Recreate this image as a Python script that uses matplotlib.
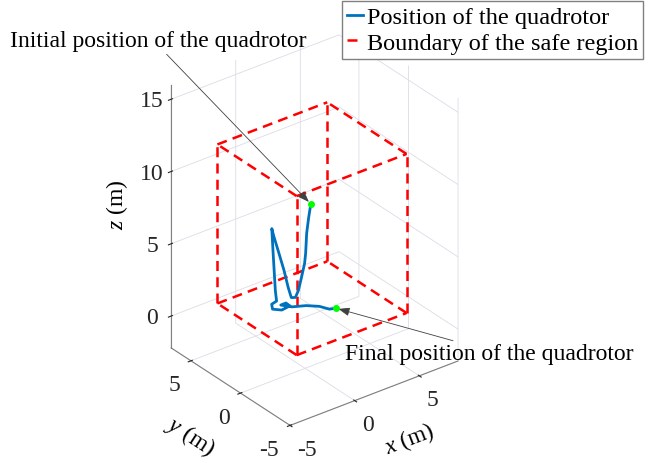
import itertools
import numpy as np
import matplotlib
matplotlib.use("Agg")
import matplotlib.pyplot as plt
from mpl_toolkits.mplot3d import proj3d

# ---- data ----
# quadrotor trajectory (m)
traj_x = [0.44, 0.28, 0.12, 0.04, -0.04, -0.28, -0.52, -0.75, -1.07, -1.31, -1.63,
          -2.02, -2.42, -2.58, -2.50, -1.46, -0.745, -0.037, 0.244, -0.083, 0.30,
          1.01, 1.03, 0.625, 1.03, 1.82, 2.41, 2.69, 3.07]
traj_y = [0, 0, 0, 0, 0, 0, 0, 0, 0, 0, 0,
          0, 0, 0, 0, 1.22, 2.03, 2.83, 3.69, 3.18, 2.75,
          2.85, 3.28, 3.27, 2.68, 2.27, 1.70, 1.05, 0.92]
traj_z = [9.02, 8.17, 7.11, 5.75, 5.08, 4.19, 3.37, 2.96, 3.06, 3.84, 5.12,
          6.43, 7.75, 8.35, 7.0, 4.5, 2.5, 1.2, 0.5, 0.5, 0.5,
          0.5, 0.5, 0.5, 0.5, 0.5, 0.5, 0.5, 0.5]

# safe region limits (m)
box_x = [-1.8, 6.7]
box_y = [-1.5, 6.5]
box_z = [0.0, 11.0]

xlims = (-5, 8)
ylims = (-5, 7)
zlims = (-2.2, 16)
xticks = [-5, 0, 5]
yticks = [-5, 0, 5]
zticks = [0, 5, 10, 15]

# ---- style ----
plt.rcParams['font.family'] = ['Liberation Serif', 'DejaVu Serif']
plt.rcParams['mathtext.fontset'] = 'custom'
plt.rcParams['mathtext.rm'] = 'Liberation Serif'
plt.rcParams['mathtext.it'] = 'Liberation Serif:italic'
plt.rcParams['axes.unicode_minus'] = False
plt.rcParams['font.size'] = 17
plt.rcParams['grid.color'] = '#dcdce6'
plt.rcParams['grid.linewidth'] = 0.6

fig = plt.figure(figsize=(6.56, 4.64), dpi=100)
ax = fig.add_axes([-0.030, 0.004, 1.0, 1.0], projection='3d', computed_zorder=False)
ax.set_proj_type('ortho')
ax.view_init(elev=30, azim=-127.5)
ax.set_xlim(*xlims)
ax.set_ylim(*ylims)
ax.set_zlim(*zlims)
ax.set_box_aspect((xlims[1] - xlims[0], ylims[1] - ylims[0],
                   (zlims[1] - zlims[0]) * 1.025), zoom=0.876)

for a in (ax.xaxis, ax.yaxis, ax.zaxis):
    a.set_pane_color((1, 1, 1, 0))
    a.line.set_color('0.5')
    a.line.set_linewidth(0.8)
    a._axinfo['tick']['color'] = '0.5'

ax.set_xticks(xticks)
ax.set_yticks(yticks)
ax.set_zticks(zticks)
ax.tick_params(colors='0.15', labelsize=17)
ax.xaxis.set_tick_params(pad=3)
for t in ax.xaxis.get_major_ticks():
    t.label1.set_va('center_baseline')
    t.label1.set_ha('left')
for t in ax.yaxis.get_major_ticks():
    t.label1.set_va('center_baseline')
    t.label1.set_ha('right')
for t in ax.zaxis.get_major_ticks():
    t.label1.set_va('center_baseline')

# safe region edges
for i, (p, q) in enumerate(itertools.combinations(itertools.product(box_x, box_y, box_z), 2)):
    if sum(a != b for a, b in zip(p, q)) == 1:
        ax.plot([p[0], q[0]], [p[1], q[1]], [p[2], q[2]], color='red', lw=1.8,
                ls=(0, (4, 2.5)), zorder=2,
                label='Boundary of the safe region' if i == 0 else None)

ax.plot(traj_x, traj_y, traj_z, color='#0072BD', lw=2, zorder=3,
        label='Position of the quadrotor')
ax.plot([traj_x[0], traj_x[-1]], [traj_y[0], traj_y[-1]], [traj_z[0], traj_z[-1]],
        ls='none', marker='o', ms=4, color='#00ff00', zorder=4)

# axis labels (placed like MATLAB, along the box edges)
fig.text(0.290, 0.058, r'$y$ (m)', rotation=-33, rotation_mode='anchor',
         ha='center', va='center', fontsize=17)
fig.text(0.625, 0.052, r'$x$ (m)', rotation=21, rotation_mode='anchor',
         ha='center', va='center', fontsize=17)
fig.text(0.178, 0.558, r'$z$ (m)', rotation=90, rotation_mode='anchor',
         ha='center', va='center', fontsize=17)

h, l = ax.get_legend_handles_labels()
order = [l.index('Position of the quadrotor'), l.index('Boundary of the safe region')]
fig.legend([h[k] for k in order], [l[k] for k in order], loc='upper right',
           bbox_to_anchor=(0.999, 1.021), fontsize=17.5, handlelength=0.66,
           handletextpad=0.15, borderpad=0.2, labelspacing=0.15, fancybox=False,
           edgecolor='0.5', framealpha=1)

# annotations
M = ax.get_proj()
sx, sy, _ = proj3d.proj_transform(traj_x[0], traj_y[0], traj_z[0], M)
ex, ey, _ = proj3d.proj_transform(traj_x[-1], traj_y[-1], traj_z[-1], M)
arrow = dict(arrowstyle='-|>,head_length=0.4,head_width=0.15', color='0.25', lw=0.6,
             shrinkA=0, shrinkB=2)
ax.annotate('Initial position of the quadrotor', xy=(sx, sy), xycoords='data',
            xytext=(158, 464 - 42), textcoords='figure pixels', ha='center', va='center',
            fontsize=17, arrowprops=dict(arrow, relpos=(0.52, 0.0)))
ax.annotate('Final position of the quadrotor', xy=(ex, ey), xycoords='data',
            xytext=(489, 464 - 355), textcoords='figure pixels', ha='center', va='center',
            fontsize=17, arrowprops=dict(arrow, relpos=(0.41, 1.0)))

fig.savefig('out.png', dpi=100)
